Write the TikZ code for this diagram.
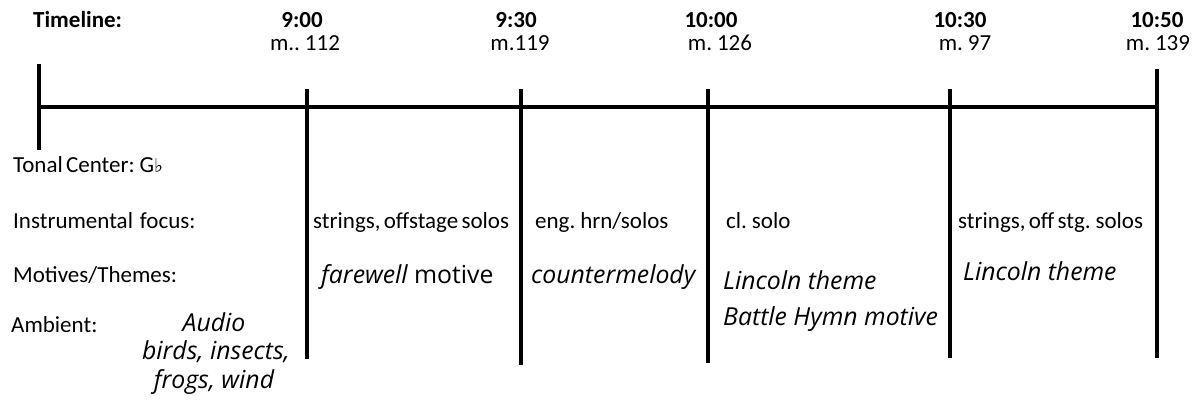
\documentclass[tikz,border=0pt]{standalone}
\usepackage{fontspec}
\setmainfont{Carlito}
\newfontfamily\itfont{Open Sans}
\newfontfamily\symfont{DejaVu Sans}
% tight word spacing for the upright captions
\newcommand\capfont{\fontsize{23}{27}\selectfont\spaceskip=0.14em plus 0.02em\relax}
\begin{document}
\begin{tikzpicture}[x=1pt,y=-1pt,
  bar/.style={line width=4.5pt},
  lbl/.style={anchor=base west,inner sep=0pt,font=\capfont},
  hdr/.style={anchor=base,inner sep=0pt,text depth=0pt,font=\capfont\bfseries},
  msr/.style={anchor=base,inner sep=0pt,text height=14pt,font=\capfont},
  itl/.style={anchor=base west,inner sep=0pt,font=\fontsize{24.8}{29}\itfont\itshape},
  itc/.style={anchor=base,inner sep=0pt,font=\fontsize{24.8}{29}\itfont\itshape}]
\useasboundingbox (0,0) rectangle (1193,404);

% time marks on the axis
\coordinate (s0) at (39,64);
\coordinate (e0) at (39,150);
\coordinate (a0) at (39,107);
\coordinate (a5) at (1157,107);
\coordinate (s1) at (307,89);   \coordinate (e1) at (307,359);
\coordinate (s2) at (521,89);   \coordinate (e2) at (521,365);
\coordinate (s3) at (708,89);   \coordinate (e3) at (708,363);
\coordinate (s4) at (950,89);   \coordinate (e4) at (950,358);
\coordinate (s5) at (1157,69);  \coordinate (e5) at (1157,358);

\draw[bar] (a0) -- (a5);
\foreach \i in {0,...,5} \draw[bar] (s\i) -- (e\i);

% header row
\node[hdr,anchor=base west] (tl) at (33,28) {Timeline:};
\node[hdr] (t1) at (302,28) {9:00};
\node[hdr] (t2) at (516,28) {9:30};
\node[hdr] (t3) at (711,28) {10:00};
\node[hdr] (t4) at (960,28) {10:30};
\node[hdr] (t5) at (1157,28) {10:50};
\node[msr] (m1) at (305,51) {m.. 112};
\node[msr] (m2) at (520,51) {m.119};
\node[msr] (m3) at (720,51) {m. 126};
\node[msr] (m4) at (965,51) {m. 97};
\node[msr] (m5) at (1158,51) {m. 139};

% row captions
\node[lbl] (tc) at (13,172) {Tonal Center: G{\symfont\fontsize{19}{22}\selectfont ♭}};
\node[lbl] (inf) at (13,228) {Instrumental\hspace{0.3em}focus:};
\node[lbl] (mot) at (13,282) {Motives/Themes:};
\node[lbl] (amb) at (11,332) {Ambient:};

% instrumental focus
\node[lbl] (i1) at (313,228) {strings, offstage solos};
\node[lbl] (i2) at (535,228) {eng. hrn/solos};
\node[lbl] (i3) at (726,228) {cl. solo};
\node[lbl] (i4) at (958,228) {strings, off stg. solos};

% motives and themes
\node[itl] (v1) at (321,283) {farewell {\upshape motive}};
\node[itl] (v2) at (531,283) {countermelody};
\node[itl] (v3) at (723,289) {Lincoln theme};
\node[itl] (v4) at (723,325) {Battle Hymn motive};
\node[itl] (v5) at (963,280) {Lincoln theme};

% ambient sound
\node[itc] (au1) at (214,331) {Audio};
\node[itc] (au2) at (216,359) {birds, insects,};
\node[itc] (au3) at (214,388) {frogs, wind};
\end{tikzpicture}
\end{document}
